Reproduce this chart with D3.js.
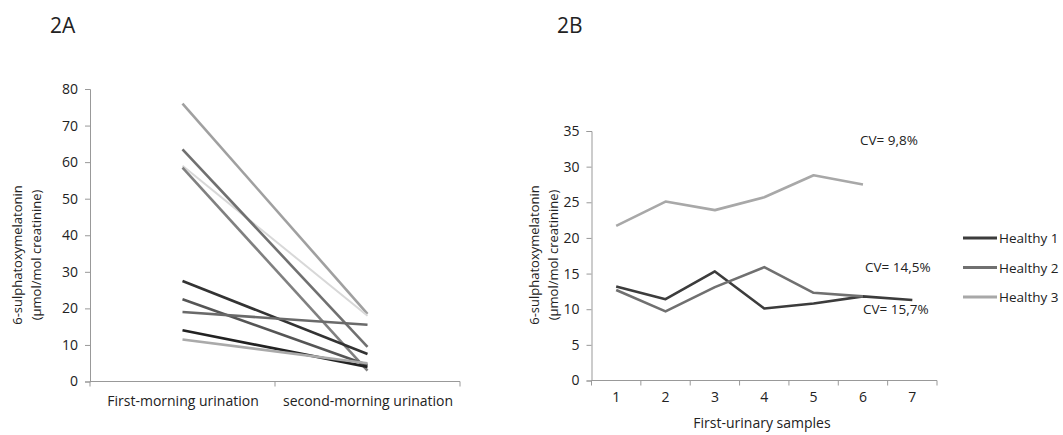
<!DOCTYPE html>
<html>
<head>
<meta charset="utf-8">
<script src="https://cdn.jsdelivr.net/npm/d3@7"></script>
<style>
  body { margin: 0; background: #fff; }
  text { font-family: "Open Sans", "DejaVu Sans", sans-serif; fill: #222; }
</style>
</head>
<body>
<div id="chart"></div>
<script>
// ---- data ----
const morningCats = ['First-morning urination', 'second-morning urination'];
const pairFirst  = [76, 59, 63.5, 58.5, 27.5, 22.5, 19, 14, 11.5];
const pairSecond = [18.5, 18, 9.5, 3, 7.5, 4.5, 15.5, 4, 5];
const pairColors = ['#a0a0a0', '#d8d8d8', '#707070', '#808080', '#333333', '#555555', '#6a6a6a', '#222222', '#aaaaaa'];

const sampleCats = ['1', '2', '3', '4', '5', '6', '7'];
const healthy1 = [13.2, 11.4, 15.3, 10.1, 10.8, 11.8, 11.3];
const healthy2 = [12.7, 9.7, 13.1, 15.9, 12.3, 11.8];
const healthy3 = [21.7, 25.1, 23.9, 25.7, 28.8, 27.5];
const seriesNames = ['Healthy 1', 'Healthy 2', 'Healthy 3'];
const seriesColors = ['#3c3c3c', '#707070', '#a8a8a8'];
const cvLabels = [
    { text: 'CV= 9,8%', x: 860, y: 145 },
    { text: 'CV= 14,5%', x: 865, y: 272 },
    { text: 'CV= 15,7%', x: 863, y: 314 }
];

const W = 1063, H = 435;
const svg = d3.select('#chart').append('svg')
    .attr('width', W)
    .attr('height', H);

const axisColor = '#999';

function styleAxis(g) {
    g.select('.domain').attr('stroke', axisColor);
    g.selectAll('.tick line').attr('stroke', axisColor);
    g.selectAll('.tick text').style('font-size', '14px').attr('fill', '#222');
}

function yTitle(x, y) {
    const t = svg.append('text')
        .attr('transform', `translate(${x},${y}) rotate(-90)`)
        .attr('text-anchor', 'middle')
        .style('font-size', '13px');
    t.append('tspan').attr('x', 0).attr('dy', 0).text('6-sulphatoxymelatonin');
    t.append('tspan').attr('x', 0).attr('dy', 19).text('(µmol/mol creatinine)');
}

// ---- 2A ----
svg.append('text').attr('x', 50).attr('y', 33).style('font-size', '21px').text('2A');

const xA = d3.scalePoint().domain(morningCats).range([90, 460]).padding(0.5);
const yA = d3.scaleLinear().domain([0, 80]).range([381.5, 89]);

svg.append('g')
    .attr('transform', 'translate(90,0)')
    .call(d3.axisLeft(yA).tickValues(d3.range(0, 81, 10)).tickSize(5).tickPadding(7))
    .call(styleAxis);

const xAxisA = svg.append('g')
    .attr('transform', `translate(0,${yA(0)})`)
    .call(d3.axisBottom(xA).tickSize(0).tickPadding(15))
    .call(styleAxis);
xAxisA.select('.domain').attr('d', 'M90,0H460');
xAxisA.selectAll('.tick text').style('font-size', '14px');
// boundary ticks
xAxisA.selectAll('line.bound').data([90, 275, 460]).join('line')
    .attr('class', 'bound')
    .attr('x1', d => d).attr('x2', d => d)
    .attr('y1', 0).attr('y2', 5)
    .attr('stroke', axisColor);

yTitle(22, 255);

const pairs = pairFirst.map((v, i) => [v, pairSecond[i]]);
svg.append('g').selectAll('path').data(pairs).join('path')
    .attr('d', d => d3.line().x((v, j) => xA(morningCats[j])).y(v => yA(v))(d))
    .attr('fill', 'none')
    .attr('stroke', (d, i) => pairColors[i])
    .attr('stroke-width', (d, i) => i === 1 ? 2 : 2.6);

// ---- 2B ----
svg.append('text').attr('x', 557).attr('y', 33).style('font-size', '21px').text('2B');

const xB = d3.scaleBand().domain(sampleCats).range([591.5, 937]);
const yB = d3.scaleLinear().domain([0, 35]).range([380.5, 131]);

svg.append('g')
    .attr('transform', 'translate(591.5,0)')
    .call(d3.axisLeft(yB).tickValues(d3.range(0, 36, 5)).tickSize(5).tickPadding(7))
    .call(styleAxis);

const xAxisB = svg.append('g')
    .attr('transform', `translate(0,${yB(0)})`)
    .call(d3.axisBottom(xB).tickSize(0).tickPadding(12))
    .call(styleAxis);
xAxisB.select('.domain').attr('d', 'M591.5,0H937');
xAxisB.selectAll('line.bound')
    .data(sampleCats.map(c => xB(c)).concat([xB.range()[1]]))
    .join('line')
    .attr('class', 'bound')
    .attr('x1', d => d).attr('x2', d => d)
    .attr('y1', 0).attr('y2', 5)
    .attr('stroke', axisColor);

svg.append('text')
    .attr('x', 762).attr('y', 428)
    .attr('text-anchor', 'middle')
    .style('font-size', '14px')
    .text('First-urinary samples');

yTitle(539, 255);

const lineB = d3.line()
    .x((v, i) => xB(sampleCats[i]) + xB.bandwidth() / 2)
    .y(v => yB(v));
const seriesB = [healthy1, healthy2, healthy3];
svg.append('g').selectAll('path').data(seriesB).join('path')
    .attr('d', d => lineB(d))
    .attr('fill', 'none')
    .attr('stroke', (d, i) => seriesColors[i])
    .attr('stroke-width', 2.6)
    .attr('stroke-linejoin', 'round');

svg.append('g').selectAll('text').data(cvLabels).join('text')
    .attr('x', d => d.x).attr('y', d => d.y)
    .style('font-size', '13.5px')
    .text(d => d.text);

// legend
const leg = svg.append('g').attr('transform', 'translate(963,238)');
const legItems = leg.selectAll('g').data(seriesNames).join('g')
    .attr('transform', (d, i) => `translate(0,${i * 29.5})`);
legItems.append('line')
    .attr('x1', 0).attr('x2', 34)
    .attr('stroke', (d, i) => seriesColors[i])
    .attr('stroke-width', 3);
legItems.append('text')
    .attr('x', 36).attr('y', 5)
    .style('font-size', '13.5px')
    .text(d => d);
</script>
</body>
</html>
